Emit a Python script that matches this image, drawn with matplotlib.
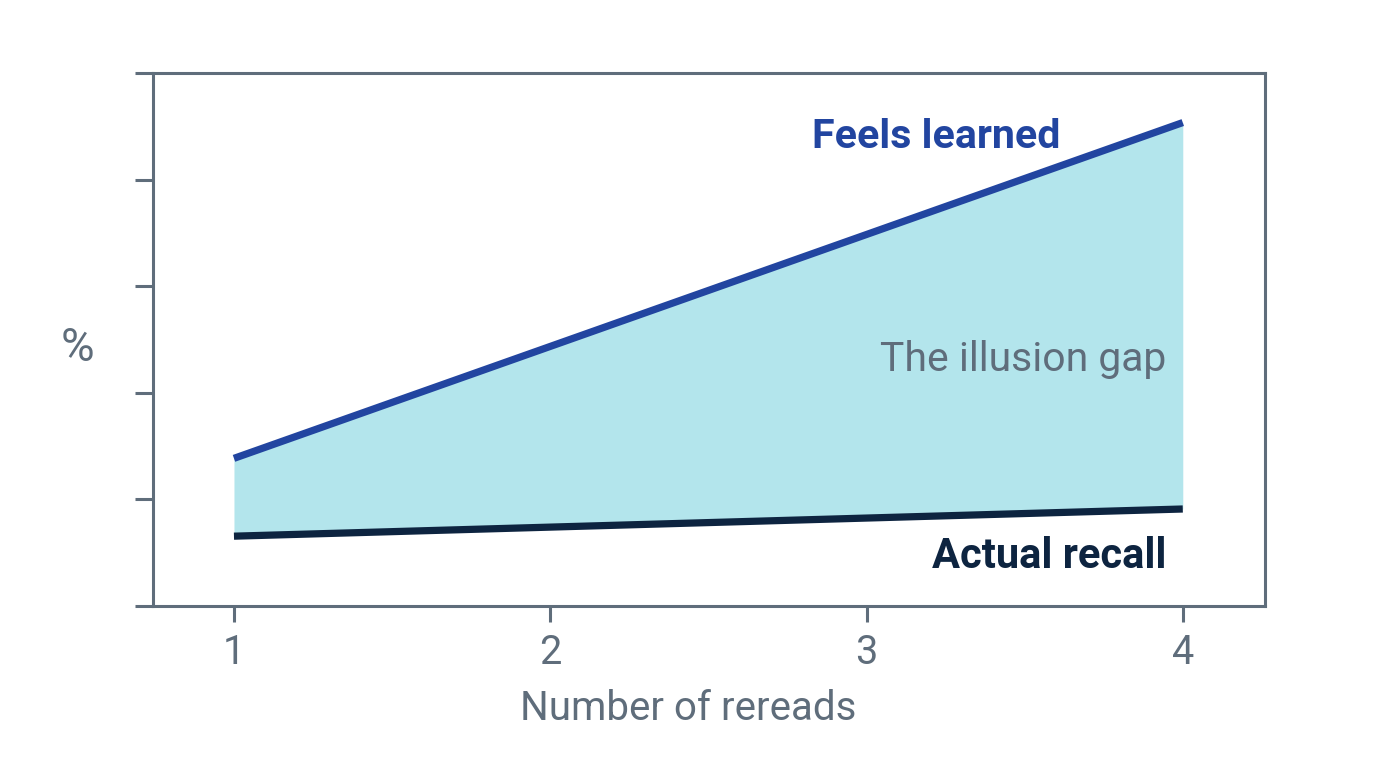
import numpy as np
import matplotlib.pyplot as plt

plt.rcParams['font.family'] = ['Roboto', 'DejaVu Sans']

# data
rereads = [1, 2, 3, 4]
feels_learned = [27.7, 48.7, 69.7, 90.7]
actual_recall = [13.1, 14.8, 16.5, 18.2]
xticks = [1, 2, 3, 4]
yticks = [0, 20, 40, 60, 80, 100]

gray = '#5f6d7b'
blue = '#2245a0'
navy = '#0d2440'
fillc = '#b3e5ec'

fig = plt.figure(figsize=(13.76, 7.68), dpi=100)
ax = fig.add_axes([153/1376, 1-606/768, (1265-153)/1376, (606-73)/768])

ax.fill_between(rereads, actual_recall, feels_learned, color=fillc, lw=0)
ax.plot(rereads, feels_learned, color=blue, lw=5.2, solid_capstyle='butt')
ax.plot(rereads, actual_recall, color=navy, lw=5.2, solid_capstyle='butt')

ax.set_xlim(0.744, 4.26)
ax.set_ylim(0, 100)
ax.set_xticks(xticks)
ax.set_yticks(yticks)
ax.set_yticklabels([])
ax.tick_params(axis='both', direction='out', color=gray, width=2.2, labelcolor=gray)
ax.tick_params(axis='y', length=13)
ax.tick_params(axis='x', length=11.5, labelsize=28.5, pad=8)
for s in ax.spines.values():
    s.set_color(gray)
    s.set_linewidth(2.2)

ax.text(3.614, 86, 'Feels learned', color=blue, fontsize=29.6, fontweight='bold',
        ha='right', va='baseline')
ax.text(3.949, 44.1, 'The illusion gap', color=gray, fontsize=29.4,
        ha='right', va='baseline')
ax.text(3.949, 7.1, 'Actual recall', color=navy, fontsize=30, fontweight='bold',
        ha='right', va='baseline')

fig.text(77/1376, 1-348/768, '%', color=gray, fontsize=33, ha='center', va='center')
fig.text(0.5, 1-709/768, 'Number of rereads', color=gray, fontsize=29,
         ha='center', va='center')

fig.savefig('out.png', dpi=100, facecolor='white')
